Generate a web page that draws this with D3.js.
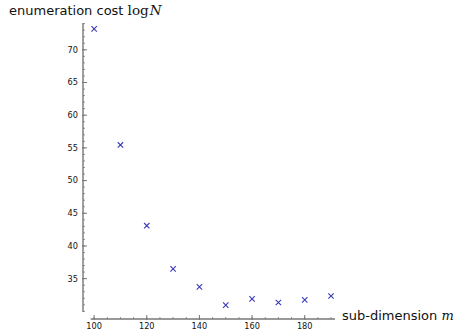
<!DOCTYPE html>
<html>
<head>
<meta charset="utf-8">
<script src="https://cdn.jsdelivr.net/npm/d3@7"></script>
<style>
  html, body { margin: 0; padding: 0; background: #fff; }
  svg { display: block; }
</style>
</head>
<body>
<svg id="chart" width="457" height="330"></svg>
<script>
// Sub-dimension m and the resulting enumeration cost log N
const subDimension = [100, 110, 120, 130, 140, 150, 160, 170, 180, 190];
const enumCost = [73.2, 55.45, 43.1, 36.5, 33.75, 30.95, 31.9, 31.35, 31.75, 32.35];
const xTicks = [100, 120, 140, 160, 180];
const yTicks = [35, 40, 45, 50, 55, 60, 65, 70];

const svg = d3.select("#chart");
const axisColor = "#777";
const markColor = "#3a3ab8";

const x = d3.scaleLinear().domain([98.7, 191.5]).range([90.7, 335]);
const y = d3.scaleLinear().domain([29.9, 74.1]).range([312, 23]);
const x0 = 83;   // y-axis position
const y0 = 319;  // x-axis position

// y axis
const gy = svg.append("g").attr("transform", `translate(${x0},0)`);
gy.append("line").attr("x1", 0).attr("x2", 0).attr("y1", y.range()[1]).attr("y2", y.range()[0])
  .attr("stroke", axisColor).attr("stroke-width", 1.4);
const yMinor = d3.range(30, 75, 1);
gy.selectAll(".ymin").data(yMinor).enter().append("line")
  .attr("x1", 0).attr("x2", 2).attr("y1", d => y(d)).attr("y2", d => y(d))
  .attr("stroke", axisColor).attr("stroke-width", 0.8);
gy.selectAll(".ymaj").data(yTicks).enter().append("line")
  .attr("x1", -1).attr("x2", 4).attr("y1", d => y(d)).attr("y2", d => y(d))
  .attr("stroke", axisColor).attr("stroke-width", 1);
gy.selectAll(".ylab").data(yTicks).enter().append("text")
  .attr("x", -5).attr("y", d => y(d)).attr("dy", "0.35em")
  .attr("text-anchor", "end")
  .attr("font-family", "DejaVu Sans").attr("font-size", 8.2).attr("fill", "#111")
  .text(d => d);

// x axis
const gx = svg.append("g").attr("transform", `translate(0,${y0})`);
gx.append("line").attr("x1", x.range()[0]).attr("x2", x.range()[1]).attr("y1", 0).attr("y2", 0)
  .attr("stroke", axisColor).attr("stroke-width", 1.4);
const xMinor = d3.range(100, 195, 5);
gx.selectAll(".xmin").data(xMinor).enter().append("line")
  .attr("x1", d => x(d)).attr("x2", d => x(d)).attr("y1", 0).attr("y2", -2)
  .attr("stroke", axisColor).attr("stroke-width", 0.8);
gx.selectAll(".xmaj").data(xTicks).enter().append("line")
  .attr("x1", d => x(d)).attr("x2", d => x(d)).attr("y1", 1).attr("y2", -4)
  .attr("stroke", axisColor).attr("stroke-width", 1);
gx.selectAll(".xlab").data(xTicks).enter().append("text")
  .attr("x", d => x(d)).attr("y", 10)
  .attr("text-anchor", "middle")
  .attr("font-family", "DejaVu Sans").attr("font-size", 8.2).attr("fill", "#111")
  .text(d => d);

// axis labels: plain text followed by math-style symbols
const yl = svg.append("text").attr("x", 9).attr("y", 15)
  .attr("font-family", "DejaVu Sans").attr("font-size", 13).attr("fill", "#111");
yl.append("tspan").text("enumeration cost ");
yl.append("tspan").attr("font-family", "DejaVu Serif").attr("font-size", 13.5).text("log");
yl.append("tspan").attr("dx", 1).attr("font-family", "DejaVu Serif").attr("font-style", "italic").attr("font-size", 13.5).text("N");

const xl = svg.append("text").attr("x", 342).attr("y", 320)
  .attr("font-family", "DejaVu Sans").attr("font-size", 13).attr("fill", "#111");
xl.append("tspan").text("sub-dimension ");
xl.append("tspan").attr("font-family", "DejaVu Serif").attr("font-style", "italic").attr("font-size", 13).text("m");

// data markers
const pts = subDimension.map((m, i) => [m, enumCost[i]]);
const r = 2.7;
const marks = svg.append("g").attr("stroke", markColor).attr("stroke-width", 1.1);
marks.selectAll("path").data(pts).enter().append("path")
  .attr("d", d => {
    const cx = x(d[0]), cy = y(d[1]);
    return `M${cx - r},${cy - r}L${cx + r},${cy + r}M${cx - r},${cy + r}L${cx + r},${cy - r}`;
  });
</script>
</body>
</html>
